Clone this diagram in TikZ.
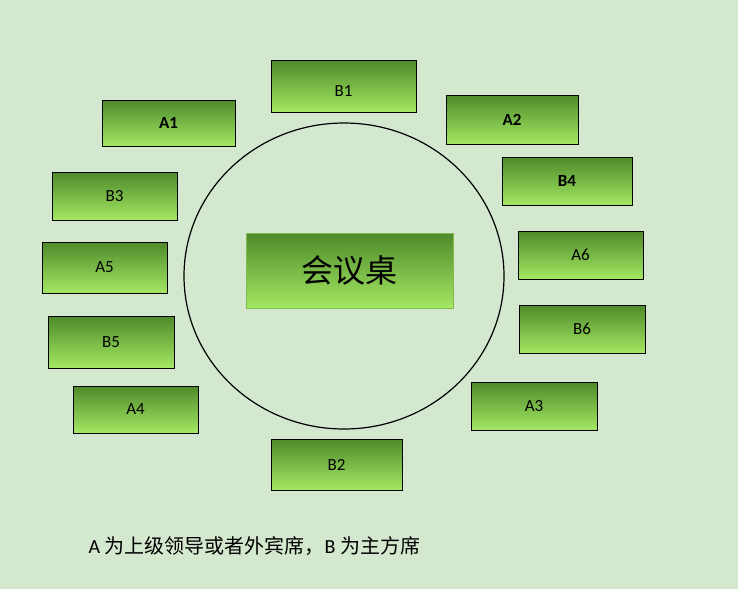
\documentclass[tikz,border=0pt]{standalone}
\usepackage{fontspec}
\setmainfont{Carlito}
\newfontfamily\cjk{Noto Sans CJK SC}
\definecolor{bg}{HTML}{D3E8CE}
\definecolor{gtop}{HTML}{4E8A2A}
\definecolor{gbot}{HTML}{A4E863}
\begin{document}
\begin{tikzpicture}[x=1pt,y=-1pt,
  seat/.style={draw=black,line width=1pt,top color=gtop,bottom color=gbot,inner sep=0pt,font=\fontsize{17}{20}\selectfont}]
\fill[bg] (0,0) rectangle (738,589);
\useasboundingbox (0,0) rectangle (738,589);
\draw[line width=1.2pt] (344,276) ellipse [x radius=160, y radius=153];
\node[draw=gbot!80!black,line width=1pt,top color=gtop,bottom color=gbot,minimum width=207,minimum height=75,font=\cjk\fontsize{32}{36}\selectfont] (t) at (349.5,270.5) {会议桌};
\newcommand{\seat}[6]{\node[seat,minimum width=#3-#2,minimum height=#5-#4,text depth=0pt] (#1) at ({(#2+#3)/2},{(#4+#5)/2}) {#6};}
\seat{b1}{271}{416}{60}{112}{\raisebox{-10pt}{B1}}
\seat{a1}{102}{235}{100}{146}{\textbf{A1}}
\seat{a2}{446}{578}{95}{144}{\textbf{A2}}
\seat{b3}{52}{177}{172}{220}{B3}
\seat{b4}{502}{632}{157}{205}{\textbf{B4}}
\seat{a5}{42}{167}{242}{293}{A5}
\seat{a6}{518}{643}{231}{279}{A6}
\seat{b5}{48}{174}{316}{368}{B5}
\seat{b6}{519}{645}{305}{353}{B6}
\seat{a4}{73}{198}{386}{433}{A4}
\seat{a3}{471}{597}{382}{430}{A3}
\seat{b2}{271}{402}{439}{490}{B2}
\node[anchor=west,font=\fontsize{20}{24}\selectfont] (cap) at (85,546) {A {\cjk 为上级领导或者外宾席，}B {\cjk 为主方席}};
\end{tikzpicture}
\end{document}
